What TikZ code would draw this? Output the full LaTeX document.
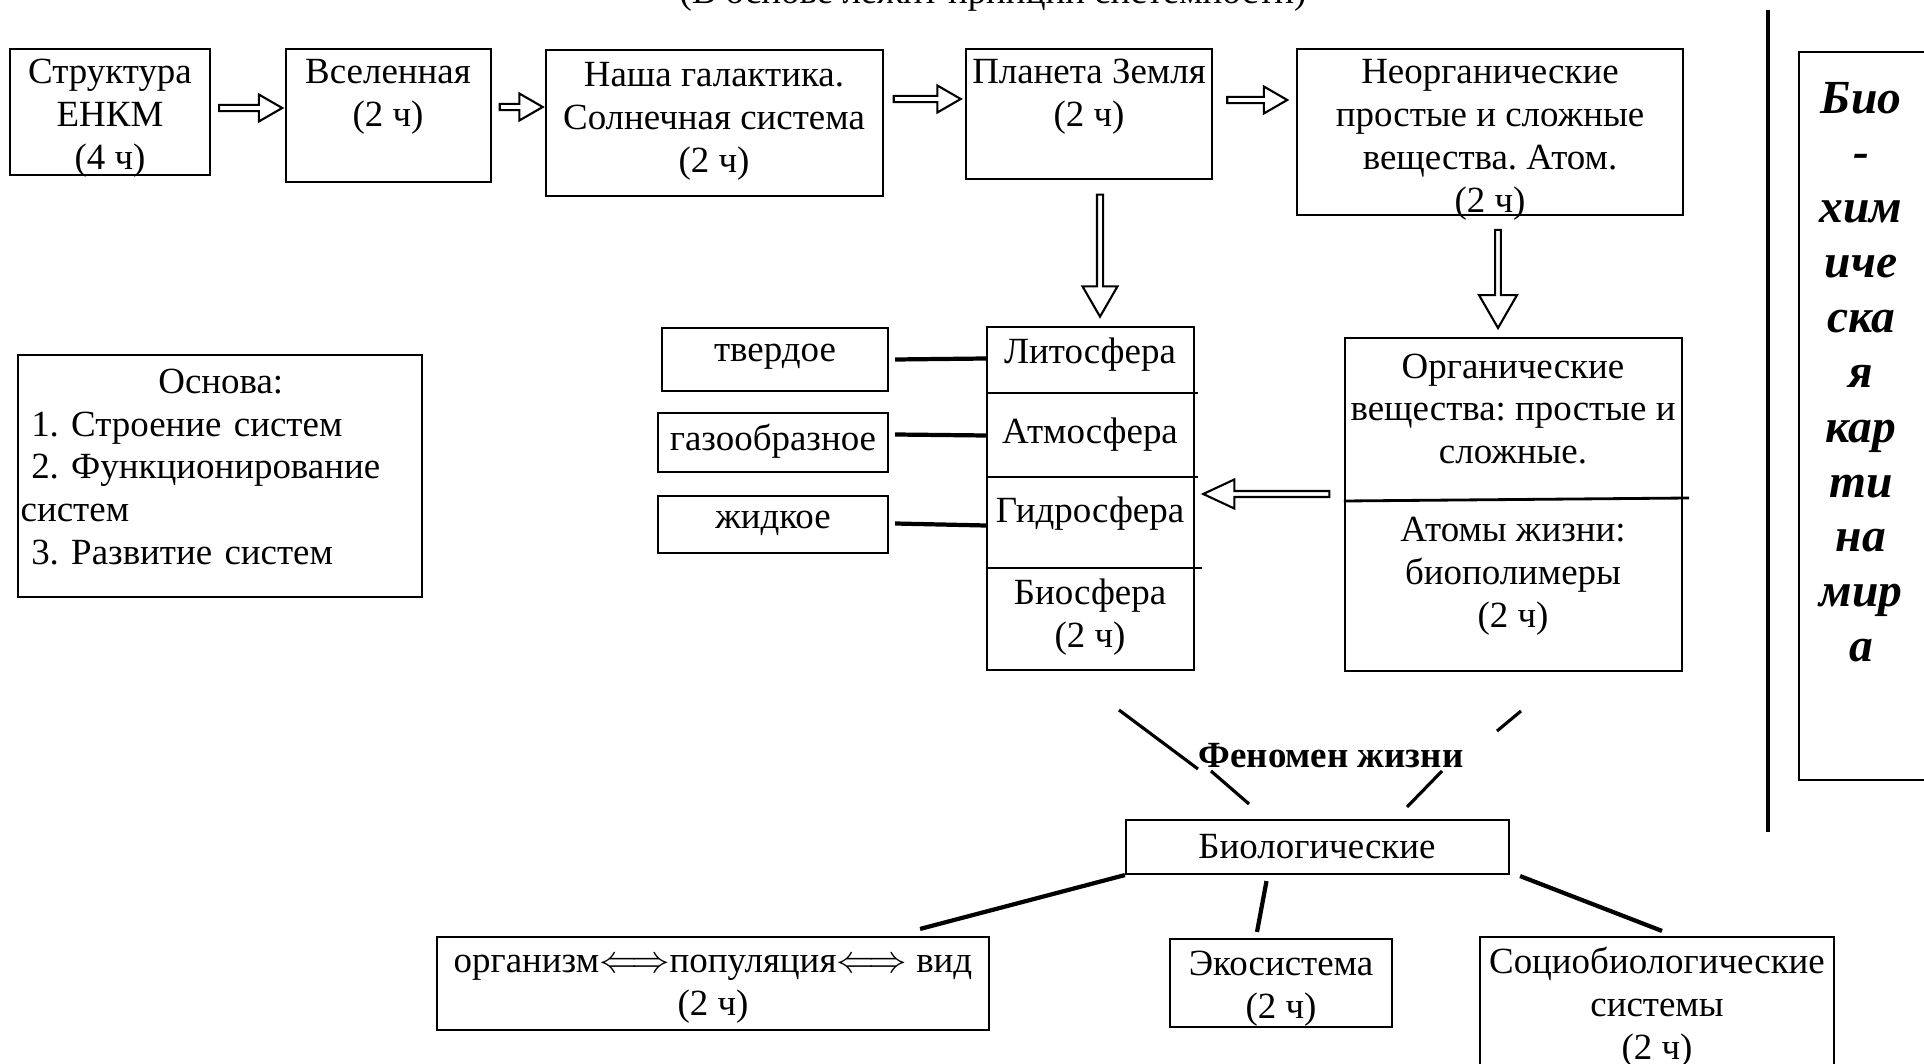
\documentclass[tikz,border=0pt]{standalone}
\usepackage{fontspec}
\setmainfont{Liberation Serif}
\usetikzlibrary{positioning,fit,calc,shapes.arrows}
\frenchspacing
\newcommand{\txtsize}{\fontsize{10.5pt}{12.2pt}\selectfont}
\newcommand{\bigbi}{\fontsize{13.5pt}{15.6pt}\selectfont\bfseries\itshape}
\tikzset{
	box/.style={draw=black, line width=0.6pt, inner sep=0pt, rectangle},
	txt/.style={align=center, inner sep=0pt, font=\txtsize},
	blockarrow/.style={single arrow, draw=black, line width=0.6pt, fill=white, inner sep=0pt, single arrow tip angle=60},
	harrow/.style={blockarrow, minimum width=0.27cm, single arrow head extend=0.035cm},
	varrow/.style={blockarrow, rotate=-90, minimum width=0.35cm, single arrow head extend=0.05cm},
	link/.style={line width=1.2pt},
	thinlink/.style={line width=0.9pt},
	divider/.style={line width=0.8pt}
}
\begin{document}
\begin{tikzpicture}[x=0.01cm,y=-0.01cm]
	\useasboundingbox (0,0) rectangle (1924,1064);

	%%title (cut at the top)
	\node[txt, anchor=base] (titul) at (993,4) {(В основе лежит принцип системности)};

	%%top row
	\node[box, fit={(10,49) (210,175)}] (enkm) {};
	\node[txt] (enkm-t) at (110,118) {Структура\\ЕНКМ\\(4 ч)};
	\node[box, fit={(286,49) (491,182)}] (vselen) {};
	\node[txt] (vselen-t) at (388,97) {Вселенная\\(2 ч)};
	\node[box, fit={(546,50) (883,196)}] (galak) {};
	\node[txt] (galak-t) at (714,121) {Наша галактика.\\Солнечная система\\(2 ч)};
	\node[box, fit={(966,49) (1212,179)}] (zemlya) {};
	\node[txt] (zemlya-t) at (1089,97) {Планета Земля\\(2 ч)};
	\node[box, fit={(1297,49) (1683,215)}] (neorg) {};
	\node[txt] (neorg-t) at (1490,140) {Неорганические\\простые и сложные\\вещества. Атом.\\(2 ч)};

	%%arrows of the top row
	\path (enkm.east |- 0,108) -- node[harrow, minimum height=0.63cm] (ar1) {} (vselen.west |- 0,108);
	\path (vselen.east |- 0,107) -- node[harrow, minimum height=0.43cm] (ar2) {} (galak.west |- 0,107);
	\path (galak.east |- 0,99) -- node[harrow, minimum height=0.67cm] (ar3) {} (zemlya.west |- 0,99);
	\path (zemlya.east |- 0,100) -- node[harrow, minimum height=0.60cm] (ar4) {} (neorg.west |- 0,100);

	%%basis
	\node[box, fit={(18,355) (422,597)}] (osnova) {};
	\node[txt, align=left, text width=4cm, anchor=west] (osnova-t) at (20,467)
	{\makebox[\linewidth]{Основа:}\\\hspace*{3pt}1. Строение систем\\\hspace*{3pt}2. Функционирование\\систем\\\hspace*{3pt}3. Развитие систем};

	%%states
	\node[box, fit={(662,328) (888,391)}] (tverd) {};
	\node[txt] (tverd-t) at (775,357) {твердое};
	\node[box, fit={(658,413) (888,472)}] (gaz) {};
	\node[txt] (gaz-t) at (773,441) {газообразное};
	\node[box, fit={(658,496) (888,553)}] (zhid) {};
	\node[txt] (zhid-t) at (773,523) {жидкое};

	%%spheres
	\node[box, fit={(987,327) (1194,670)}] (sfery) {};
	\node[txt] (lito) at (1090,355) {Литосфера};
	\node[txt] (atmo) at (1090,435) {Атмосфера};
	\node[txt] (gidro) at (1090,514) {Гидросфера};
	\node[txt] (biosf) at (1090,617) {Биосфера\\(2 ч)};
	\draw[divider] (sfery.west |- 0,393) -- (1198,393);
	\draw[divider] (sfery.west |- 0,477) -- (1198,477);
	\draw[divider] (sfery.west |- 0,568) -- (1202,568);
	\draw[link] ([xshift=0.06cm]tverd.east) -- ([yshift=0.01cm]tverd.east -| sfery.west);
	\draw[link] ([shift={(6,-8)}]gaz.east) -- ([yshift=0.07cm]gaz.east -| sfery.west);
	\draw[link] ([shift={(6,-1)}]zhid.east) -- ([yshift=-0.01cm]zhid.east -| sfery.west);
	\path (1100,0 |- zemlya.south) -- node[varrow, minimum height=1.22cm] (ar5) {} (1100,0 |- sfery.north);

	%%organic
	\node[box, fit={(1345,338) (1682,671)}] (organ) {};
	\node[txt] (organ-t) at (1513,409) {Органические\\вещества: простые и\\сложные.};
	\node[txt] (atomy) at (1513,576) {Атомы жизни:\\биополимеры\\(2 ч)};
	\draw[divider] (organ.west |- 0,501) -- (1689,498);
	\path (1498,0 |- neorg.south) -- node[varrow, minimum height=0.98cm, minimum width=0.38cm, single arrow head extend=0.06cm] (ar6) {} (1498,0 |- organ.north);
	\path (organ.west |- 0,494) -- node[blockarrow, rotate=180, minimum height=1.26cm, minimum width=0.29cm, single arrow head extend=0.04cm, single arrow tip angle=50] (ar7) {} (sfery.east |- 0,494);

	%%phenomenon of life
	\node[txt, font=\txtsize\bfseries] (fenomen) at (1331,756) {Феномен жизни};
	\coordinate (f1) at (1119,710);
	\coordinate (f2) at (1521,711);
	\coordinate (f3) at (1497,731);
	\coordinate (f4) at (1211,771);
	\coordinate (f5) at (1249,804);
	\coordinate (f6) at (1442,771);
	\coordinate (f7) at (1407,807);
	\draw[thinlink] (f1) -- (fenomen.south west);
	\draw[thinlink] (f2) -- (f3);
	\draw[thinlink] (f4) -- (f5);
	\draw[thinlink] (f6) -- (f7);

	%%biological systems
	\node[box, fit={(1126,820) (1509,874)}] (biolog) {};
	\node[txt] (biolog-t) at (1317,847) {Биологические};
	\node[box, fit={(437,937) (989,1030)}] (organizm) {};
	\node[txt] (organizm-t) at (713,989) {организм$\Longleftrightarrow$популяция$\Longleftrightarrow$ вид\\(2 ч)};
	\node[box, fit={(1170,939) (1392,1027)}] (ekosis) {};
	\node[txt] (ekosis-t) at (1281,989) {Экосистема\\(2 ч)};
	\node[box, fit={(1480,937) (1834,1090)}] (sociob) {};
	\node[txt] (sociob-t) at (1657,1007) {Социобиологические\\системы\\(2 ч)};
	\draw[link] (biolog.south west) -- ([shift={(-70,-7)}]organizm.north east);
	\draw[link] ([shift={(-51,6)}]biolog.south) -- ([shift={(-24,-6)}]ekosis.north);
	\draw[link] ([shift={(10,1)}]biolog.south east) -- ([shift={(5,-5)}]sociob.north);

	%%right side
	\draw[link] (1768,10) -- (1768,832);
	\node[box, fit={(1799,52) (1940,780)}] (bhk) {};
	\node[txt, font=\bigbi] (bhk-t) at (1861,372) {Био\\-\\хим\\иче\\ска\\я\\кар\\ти\\на\\мир\\а};
\end{tikzpicture}
\end{document}
